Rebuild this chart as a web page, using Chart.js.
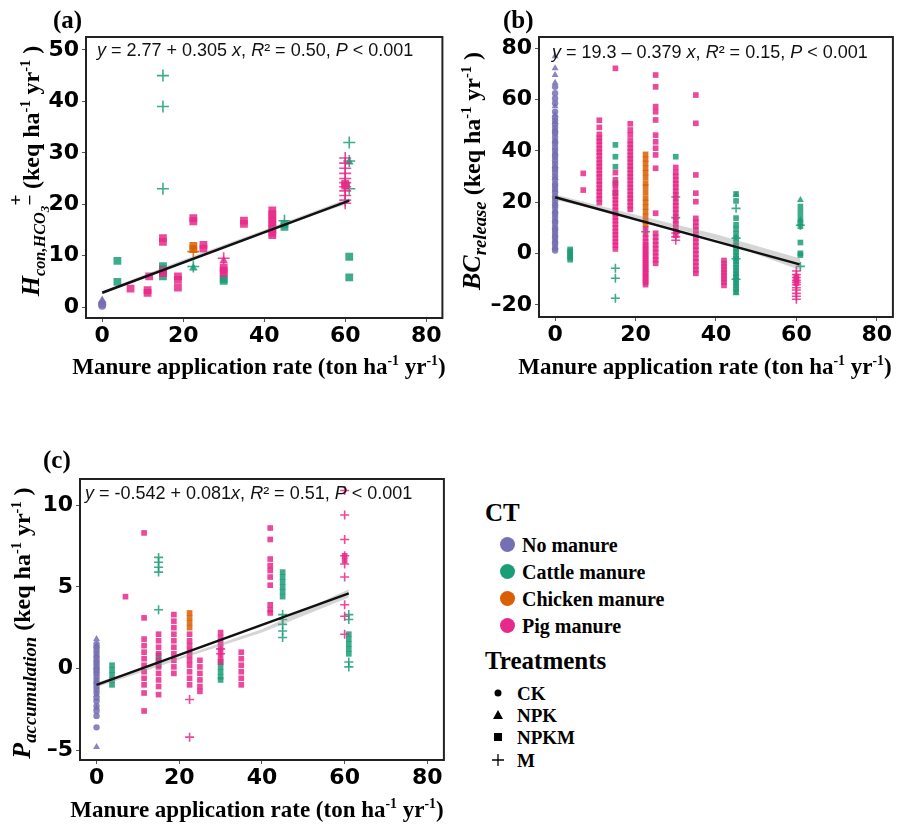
<!DOCTYPE html>
<html>
<head>
<meta charset="utf-8">
<script src="https://cdn.jsdelivr.net/npm/chart.js@4.4.1/dist/chart.umd.min.js"></script>
<style>
  body { margin: 0; background: #fff; }
  #page { position: relative; width: 899px; height: 826px; overflow: hidden; font-family: "Liberation Serif", "Times New Roman", serif; }
  canvas { position: absolute; }
  .lbl { position: absolute; font-weight: bold; color: #000; white-space: nowrap; line-height: 1; }
  .tag { font-size: 25px; }
  .xt { font-size: 23px; text-align: center; }
  .yt { font-size: 24px; text-align: center; transform: rotate(-90deg); }
  .yt sub { font-size: 0.72em; }
  .yt sup, .xt sup { font-size: 0.6em; }
  .eq { font-family: "Liberation Sans", Arial, sans-serif; font-weight: normal; font-size: 18px; color: #111; }
  .leg { position: absolute; font-weight: bold; color: #000; white-space: nowrap; line-height: 1; }
  .dot { position: absolute; width: 15px; height: 15px; border-radius: 50%; }
</style>
</head>
<body>
<div id="page">
  <div class="lbl tag" style="left:53px; top:7px;">(a)</div>
  <div class="lbl tag" style="left:503px; top:7px;">(b)</div>
  <div class="lbl tag" style="left:43px; top:447px;">(c)</div>

  <div class="lbl eq" style="left:97px; top:41px;"><i>y</i> = 2.77 + 0.305 <i>x</i>, <i>R</i>² = 0.50, <i>P</i> &lt; 0.001</div>
  <div class="lbl eq" style="left:552px; top:43px;"><i>y</i> = 19.3 – 0.379 <i>x</i>, <i>R</i>² = 0.15, <i>P</i> &lt; 0.001</div>
  <div class="lbl eq" style="left:85px; top:484px;"><i>y</i> = -0.542 + 0.081<i>x</i>, <i>R</i>² = 0.51, <i>P</i> &lt; 0.001</div>

  <div class="lbl yt" style="left:-134px; top:158px; width:320px; height:26px;"><i style="font-size:26px">H</i><sub style="font-size:0.68em"><i>con,HCO<sub style="font-size:0.8em">3</sub></i></sub><span style="display:inline-block; width:0.55em; position:relative; top:-0.2em; font-size:0.8em; line-height:0.7;">+<br>−</span> (keq ha<sup>-1</sup> yr<sup>-1</sup> )</div>
  <div class="lbl yt" style="left:322px; top:158px; width:300px; height:26px;"><i style="font-size:26px">BC<sub style="font-size:0.72em">release</sub></i> (keq ha<sup>-1</sup> yr<sup>-1</sup> )</div>
  <div class="lbl yt" style="left:-138px; top:610px; width:320px; height:26px;"><i style="font-size:26px">P<sub style="font-size:0.72em">accumulation</sub></i> (keq ha<sup>-1</sup> yr<sup>-1</sup> )</div>

  <div class="lbl xt" style="left:59px; top:354px; width:400px;">Manure application rate (ton ha<sup>-1</sup> yr<sup>-1</sup>)</div>
  <div class="lbl xt" style="left:505px; top:354px; width:400px;">Manure application rate (ton ha<sup>-1</sup> yr<sup>-1</sup>)</div>
  <div class="lbl xt" style="left:57px; top:797px; width:400px;">Manure application rate (ton ha<sup>-1</sup> yr<sup>-1</sup>)</div>

  <div class="leg" style="left:485px; top:500px; font-size:25px;">CT</div>
  <div class="dot" style="left:500px; top:537px; background:#7570b3;"></div>
  <div class="leg" style="left:522px; top:535px; font-size:20px;">No manure</div>
  <div class="dot" style="left:500px; top:564px; background:#1b9e77;"></div>
  <div class="leg" style="left:522px; top:562px; font-size:20px;">Cattle manure</div>
  <div class="dot" style="left:500px; top:591px; background:#d95f02;"></div>
  <div class="leg" style="left:522px; top:589px; font-size:20px;">Chicken manure</div>
  <div class="dot" style="left:500px; top:618px; background:#e7298a;"></div>
  <div class="leg" style="left:522px; top:616px; font-size:20px;">Pig manure</div>

  <div class="leg" style="left:485px; top:648px; font-size:25px;">Treatments</div>
  <svg style="position:absolute; left:490px; top:684px;" width="18" height="86">
    <circle cx="8" cy="9" r="3.5" fill="#000"/>
    <polygon points="3,35 13,35 8,26" fill="#000"/>
    <rect x="4" y="49" width="8" height="8" fill="#000"/>
    <path d="M2 76 H14 M8 70 V82" stroke="#000" stroke-width="1.3"/>
  </svg>
  <div class="leg" style="left:517px; top:684px; font-size:19px;">CK</div>
  <div class="leg" style="left:517px; top:706px; font-size:19px;">NPK</div>
  <div class="leg" style="left:517px; top:728px; font-size:19px;">NPKM</div>
  <div class="leg" style="left:517px; top:751px; font-size:19px;">M</div>
</div>

<script>
// ---- shared axis values ----
const xTicks = [0, 20, 40, 60, 80];
const aYTicks = [0, 10, 20, 30, 40, 50];
const bYTicks = [-20, 0, 20, 40, 60, 80];
const cYTicks = [-5, 0, 5, 10];

// ---- panel (a): H con,HCO3 ----  columns: [x, [y values]]
const aNo_CK = [[0, [0.3, 0.6]]];
const aNo_NPK = [[0, [1.0, 1.3]]];
const aCattle_NPKM = [[3.75, [9.0, 4.9]], [15, [8.0, 7.4, 6.0]], [30, [5.1, 5.5]], [45, [15.6, 16.2]], [61, [9.8, 5.8]]];
const aCattle_NPK = [[22.5, [7.6]], [61, [28.2]]];
const aCattle_M = [[15, [45, 39, 23]], [22.5, [7.9]], [45, [16.8]], [61, [32, 28.4, 23]]];
const aChicken_NPKM = [[22.5, [11.9, 11.3]]];
const aChicken_M = [[22.5, [10.8]]];
const aPig_NPKM = [[7, [3.6]], [11.2, [3.3, 2.8]], [11.6, [6.0]], [15, [13.4, 12.7, 7.1, 6.6]], [18.7, [6.0, 5.3, 3.8]],
  [22.5, [17.3, 16.7]], [25, [12.1, 11.4]], [30, [7.7, 7.1, 6.6]], [35, [16.8, 16.2]],
  [42, [18.8, 18.1, 17.3, 16.6, 15.9, 15.2, 14.5, 14.0]], [60, [24.0, 23.6]]];
const aPig_NPK = [[30, [9.0]]];
const aPig_M = [[30, [9.5]], [60, [29, 28, 27, 26, 25, 24.2, 23.4, 22.6, 21.7, 20.8, 20.2]]];
const aFitX = [0, 61];
const aFitY = [2.8, 20.7];
const aBandX = [0, 20, 40, 61];
const aBandLo = [2.5, 8.8, 14.6, 20.2];
const aBandHi = [3.1, 9.2, 15.0, 21.2];

// ---- panel (b): BC release ----
const bNo_CK = [[0, [1.2, 2.1, 3.5, 4.4, 5.9, 6.8, 8.1, 9.3, 10.2, 11.7, 12.6, 14.0, 15.3, 16.1, 17.8, 18.9, 20.4, 21.6,
  22.3, 23.9, 25.1, 26.4, 27.2, 28.8, 30.1, 31.5, 32.7, 33.4, 35.0, 36.2, 37.6, 38.5, 40.1, 41.3, 42.8, 43.6, 45.2,
  46.7, 47.5, 49.0, 50.3, 51.8, 53.1, 55.2, 58.5, 60.4, 62.4, 64.9]]];
const bNo_NPK = [[0, [2.5, 5.1, 7.4, 9.9, 13.2, 16.8, 19.5, 24.6, 29.4, 34.1, 39.3, 44.0, 48.2, 51.2, 54.0, 57.3, 66.5, 69.5, 72.1, 76.8]]];
const bCattle_NPKM = [[3.75, [-2.4, -1.6, -0.8, 0.1, 0.9, 1.6]], [15, [42.3, 37.7, 33.8, 27.4, 23.5]], [30, [37.7]],
  [45, [23.2, 20.5, 13.8, 11.2, 9.5, 7.6, 5.9, 4.3, 3.1, 1.8, 0.6, -0.7, -1.9, -3.0, -4.2, -5.5, -6.6, -7.9, -9.1,
    -10.2, -11.5, -12.6, -13.8, -14.9]],
  [61, [18.3, 16.2, 14.1, 12.2, 10.6, 4.3, 0.1, -0.6]]];
const bCattle_NPK = [[45, [22.8, -8, -15.5]], [61, [20.8, 13]]];
const bCattle_M = [[15, [-5.7, -9.6, -17.4]], [22.5, [8.5]], [30, [14, 22]], [45, [17.6, 6, -2, -10]], [61, [11, -5]]];
const bChicken_NPKM = [[22.5, [38.6, 36.8, 35.1, 33.2, 31.5, 29.6, 27.4, 25.9, 23.8, 21.6, 19.9, 18.1, 16.3, 14.5, 12.6, 11.3]]];
const bPig_NPKM = [
  [7, [31.2, 24.7]],
  [11, [19.8, 21.3, 22.6, 24.1, 25.4, 26.9, 28.2, 29.8, 31.0, 32.5, 33.9, 35.2, 36.6, 38.1, 39.5, 40.8, 42.3, 43.7, 45.0, 46.4, 49.1, 51.9]],
  [15, [1.8, 3.2, 4.5, 5.9, 7.3, 8.6, 10.0, 11.4, 12.8, 14.1, 15.5, 16.8, 18.2, 19.6, 20.9, 22.3, 23.6, 25.0, 26.8, 28.7, 31.5, 72.1]],
  [18.7, [17.2, 18.6, 20.1, 21.5, 22.8, 24.3, 25.7, 27.0, 28.5, 29.9, 31.2, 32.7, 34.0, 35.5, 36.9, 38.2, 39.7, 41.1, 42.5, 44.0, 46.2, 48.1, 50.5]],
  [22.5, [-12.1, -11.2, -10.4, -9.5, -8.7, -7.8, -7.0, -6.1, -5.3, -4.4, -3.6, -2.7, -1.9, -1.0, -0.2, 0.7, 1.6, 2.5, 3.4, 4.6, 6.0, 7.5, 9.6]],
  [25, [69.5, 64.9, 57.2, 55.2, 52.0, 46.1, 43.5, 41.0, 38.4, 33.2, 15.7, 7.9, 6.4, 4.9, 3.4, 1.9, 0.4, -1.1, -2.5, -3.8]],
  [30, [7.2, 8.6, 10.1, 11.5, 12.9, 14.3, 15.8, 17.2, 18.6, 20.0, 21.5, 22.9, 24.3, 25.8, 27.2, 28.6, 30.1, 31.6, 33.5]],
  [35, [61.7, 50.7, 30.6, 23.5, 20.2, 13.7, 12.2, 10.6, 9.1, 7.5, 6.0, 4.4, 2.9, 1.3, -0.2, -1.8, -3.3, -4.9, -6.4, -7.7]],
  [42, [-2.7, -3.9, -5.1, -6.3, -7.5, -8.7, -9.9, -11.1, -12.4]],
  [60, [-9, -10, -11.5]]];
const bPig_M = [[30, [5.2, 6.5, 8.0]], [60, [-6.8, -8.2, -9.3, -10.4, -11.2, -12.1, -13.3, -14.2, -15.5, -16.6, -17.8]]];
const bFitX = [0, 60.8];
const bFitY = [21.9, -4.2];
const bBandX = [0, 20, 40, 61];
const bBandLo = [20.8, 13.9, 5.5, -6.5];
const bBandHi = [23.0, 15.1, 7.5, -1.9];

// ---- panel (c): P accumulation ----
const cNo_CK = [[0, [-3.6, -2.9, -2.6, -2.3, -2.0, -1.8, -1.5, -1.3, -1.1, -0.9, -0.7, -0.5, -0.3, -0.15, 0.0, 0.2, 0.35, 0.5, 0.7, 0.9, 1.1, 1.3, 1.5]]];
const cNo_NPK = [[0, [-4.8, -2.4, -1.6, -0.8, 0.1, 0.8, 1.4, 1.8]]];
const cCattle_NPKM = [[3.75, [0.2, -0.1, -0.4, -0.7, -1.0]], [15, [0.8, 0.5, 0.2]], [30, [0.4, 0.1, -0.2, -0.5, -0.7]],
  [45, [5.9, 5.6, 5.3, 5.0, 4.7, 4.4]], [61, [2.1, 1.8, 1.5, 1.2, 0.9]]];
const cCattle_M = [[15, [6.8, 6.5, 6.2, 5.9, 3.6]], [45, [3.3, 3.0, 2.7, 2.3, 1.9]], [61, [3.3, 3.0, 0.4, 0.1]]];
const cChicken_NPKM = [[22.5, [3.4, 3.1, 2.8, 2.5]]];
const cPig_NPKM = [
  [7, [4.4]],
  [11.5, [8.3, 3.1, 1.8, 1.4, 1.0, 0.6, 0.2, -0.2, -0.6, -1.0, -1.5, -2.6]],
  [15, [2.1, 1.7, 1.3, 0.9, 0.5, 0.1, -0.3, -0.7, -1.1, -1.6]],
  [18.7, [3.3, 2.9, 2.5, 2.1, 1.7, 1.3, 0.9, 0.5, 0.1, -0.3]],
  [22.5, [2.1, 1.7, 1.4, 1.1, 0.8, 0.5, 0.2, -0.2, -0.6, -1.0]],
  [25, [0.5, 0.1, -0.3, -0.7, -1.1, -1.4]],
  [30, [2.2, 1.9, 1.6, 1.3, 1.0, 0.7, 0.4]],
  [35, [1.0, 0.6, 0.2, -0.2, -0.6, -1.0]],
  [42, [8.6, 7.9, 6.7, 6.3, 6.0, 5.6, 5.1, 3.9, 3.6, 3.4]],
  [60, [6.9, 6.6]]];
const cPig_M = [[22.5, [-1.9, -4.2]], [30, [1.2, 0.9]], [60, [10.9, 9.4, 7.9, 6.9, 6.4, 5.6, 3.9, 3.2, 2.1]]];
const cFitX = [0, 61];
const cFitY = [-1.0, 4.6];
const cBandX = [0, 20, 40, 61];
const cBandLo = [-1.15, 0.55, 2.2, 4.35];
const cBandHi = [-0.85, 0.7, 2.4, 4.85];

const ctColors = {
  No: 'rgba(117,112,179,0.85)',
  Cattle: 'rgba(27,158,119,0.85)',
  Chicken: 'rgba(217,95,2,0.85)',
  Pig: 'rgba(231,41,138,0.85)'
};

function expand(cols) {
  return cols.flatMap(([x, ys]) => ys.map(y => ({ x, y })));
}

const boxPlugin = {
  id: 'box',
  afterDatasetsDraw(chart) {
    const a = chart.chartArea, c = chart.ctx;
    c.save();
    c.strokeStyle = '#222';
    c.lineWidth = 2;
    c.strokeRect(a.left, a.top, a.right - a.left, a.bottom - a.top);
    c.restore();
  }
};

function makePanel(p) {
  const cv = document.createElement('canvas');
  cv.width = p.w; cv.height = p.h;
  cv.style.left = p.left + 'px'; cv.style.top = p.top + 'px';
  cv.style.width = p.w + 'px'; cv.style.height = p.h + 'px';
  document.getElementById('page').prepend(cv);

  const datasets = [];
  datasets.push({
    type: 'line', order: 0,
    data: p.fitX.map((x, i) => ({ x, y: p.fitY[i] })),
    borderColor: '#111', borderWidth: 2.5, pointRadius: 0, fill: false
  });
  datasets.push({
    type: 'line', order: 1,
    data: p.bandX.map((x, i) => ({ x, y: p.bandLo[i] })),
    borderWidth: 0, pointRadius: 0, fill: false
  });
  datasets.push({
    type: 'line', order: 1,
    data: p.bandX.map((x, i) => ({ x, y: p.bandHi[i] })),
    borderWidth: 0, pointRadius: 0, fill: '-1', backgroundColor: 'rgba(150,150,150,0.4)'
  });
  p.series.forEach(([cols, ct, shape], i) => {
    const col = ctColors[ct];
    datasets.push({
      type: 'scatter', order: 100 - i,
      data: expand(cols),
      pointStyle: shape,
      pointRadius: p.size[shape],
      backgroundColor: col,
      borderColor: col,
      borderWidth: shape === 'cross' ? 1.6 : 0
    });
  });

  const tickFont = { family: '"DejaVu Sans", Arial, sans-serif', size: 22, weight: 'bold' };
  new Chart(cv, {
    type: 'scatter',
    data: { datasets },
    options: {
      responsive: false,
      animation: false,
      layout: { padding: { left: 0, top: p.area.t, right: p.w - p.area.r, bottom: 0 } },
      plugins: { legend: { display: false }, tooltip: { enabled: false } },
      scales: {
        x: {
          type: 'linear', min: -4, max: 84,
          afterBuildTicks: s => { s.ticks = xTicks.map(v => ({ value: v })); },
          afterFit: s => { s.height = p.h - p.area.b; },
          ticks: { font: tickFont, color: '#000', padding: 1, maxRotation: 0, autoSkip: false },
          grid: { drawOnChartArea: false, tickLength: 4, color: '#555' },
          border: { display: false }
        },
        y: {
          type: 'linear', min: p.ymin, max: p.ymax,
          afterBuildTicks: s => { s.ticks = p.yTicks.map(v => ({ value: v })); },
          afterFit: s => { s.width = p.area.l; },
          ticks: {
            font: tickFont, color: '#000', padding: 3, autoSkip: false,
            callback: v => (v < 0 ? '\u2013' + Math.abs(v) : String(v))
          },
          grid: { drawOnChartArea: false, tickLength: 4, color: '#555' },
          border: { display: false }
        }
      }
    },
    plugins: [boxPlugin]
  });
}

const bigSize = { rect: 5.5, circle: 4, triangle: 5, cross: 6 };
const smallSize = { rect: 4, circle: 3.2, triangle: 4, cross: 4.5 };

makePanel({
  left: 0, top: 0, w: 450, h: 390, area: { l: 86, r: 447, t: 37, b: 318 },
  ymin: -2.1, ymax: 52.5, yTicks: aYTicks, size: bigSize,
  fitX: aFitX, fitY: aFitY, bandX: aBandX, bandLo: aBandLo, bandHi: aBandHi,
  series: [
    [aNo_CK, 'No', 'circle'], [aNo_NPK, 'No', 'triangle'],
    [aCattle_NPKM, 'Cattle', 'rect'], [aCattle_NPK, 'Cattle', 'triangle'], [aCattle_M, 'Cattle', 'cross'],
    [aChicken_NPKM, 'Chicken', 'rect'], [aChicken_M, 'Chicken', 'cross'],
    [aPig_NPKM, 'Pig', 'rect'], [aPig_NPK, 'Pig', 'triangle'], [aPig_M, 'Pig', 'cross']
  ]
});

makePanel({
  left: 450, top: 0, w: 449, h: 390, area: { l: 89, r: 443, t: 37, b: 317 },
  ymin: -24.7, ymax: 84.3, yTicks: bYTicks, size: smallSize,
  fitX: bFitX, fitY: bFitY, bandX: bBandX, bandLo: bBandLo, bandHi: bBandHi,
  series: [
    [bNo_CK, 'No', 'circle'], [bNo_NPK, 'No', 'triangle'],
    [bCattle_NPKM, 'Cattle', 'rect'], [bCattle_NPK, 'Cattle', 'triangle'], [bCattle_M, 'Cattle', 'cross'],
    [bChicken_NPKM, 'Chicken', 'rect'],
    [bPig_NPKM, 'Pig', 'rect'], [bPig_M, 'Pig', 'cross']
  ]
});

makePanel({
  left: 0, top: 460, w: 450, h: 366, area: { l: 80, r: 446, t: 19, b: 300 },
  ymin: -5.6, ymax: 11.6, yTicks: cYTicks, size: smallSize,
  fitX: cFitX, fitY: cFitY, bandX: cBandX, bandLo: cBandLo, bandHi: cBandHi,
  series: [
    [cNo_CK, 'No', 'circle'], [cNo_NPK, 'No', 'triangle'],
    [cCattle_NPKM, 'Cattle', 'rect'], [cCattle_M, 'Cattle', 'cross'],
    [cChicken_NPKM, 'Chicken', 'rect'],
    [cPig_NPKM, 'Pig', 'rect'], [cPig_M, 'Pig', 'cross']
  ]
});
</script>
</body>
</html>
